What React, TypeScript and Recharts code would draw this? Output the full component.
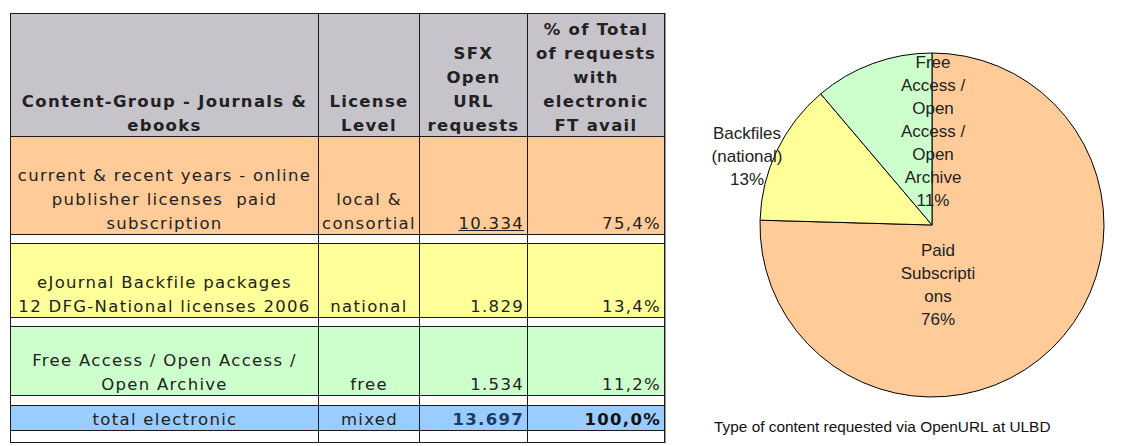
import { Cell, Pie, PieChart } from "recharts";

// table + pie: "Type of content requested via OpenURL at ULBD"
const contentGroups = [
  ["current & recent years - online", "publisher licenses  paid", "subscription"],
  ["eJournal Backfile packages", "12 DFG-National licenses 2006"],
  ["Free Access / Open Access /", "Open Archive"],
];
const licenseLevels = [["local &", "consortial"], ["national"], ["free"]];
const requests = [10334, 1829, 1534];
const rowColors = ["#FFCC99", "#FFFF99", "#CCFFCC"];

const pieNames = [
  ["Paid", "Subscripti", "ons"],
  ["Backfiles", "(national)"],
  ["Free", "Access /", "Open", "Access /", "Open", "Archive"],
];
const piePercents = ["76%", "13%", "11%"];

const headers = [
  ["Content-Group - Journals &", "ebooks"],
  ["License", "Level"],
  ["SFX", "Open", "URL", "requests"],
  ["% of Total", "of requests", "with", "electronic", "FT avail"],
];

const total = requests.reduce((a, b) => a + b, 0);
const pieData = requests.map((v, i) => ({ name: pieNames[i].join(" "), value: v }));

// label block centres, relative to the pie centre
const labelOffsets = [
  { dx: 6, dy: 60 },
  { dx: -185, dy: -69 },
  { dx: 1, dy: -94 },
];

const fmtNum = (n: number) => String(n).replace(/\B(?=(\d{3})+(?!\d))/g, ".");
const fmtPct = (n: number) => n.toFixed(1).replace(".", ",") + "%";

const font = '"DejaVu Sans", Verdana, sans-serif';
const line = "1px solid #1a1a1a";

const cell = (extra: React.CSSProperties = {}): React.CSSProperties => ({
  border: line,
  padding: "0 3px 0 4px",
  verticalAlign: "bottom",
  textAlign: "center",
  ...extra,
});

function Lines({ lines }: { lines: string[] }) {
  return (
    <div style={{ transform: "translateY(2px)" }}>
      {lines.map((l, i) => (
        <div key={i} style={{ whiteSpace: "pre" }}>
          {l}
        </div>
      ))}
    </div>
  );
}

function GapRow({ h }: { h: number }) {
  return (
    <tr style={{ height: h }}>
      {[0, 1, 2, 3].map((i) => (
        <td key={i} style={cell({ background: "#fff" })} />
      ))}
    </tr>
  );
}

function renderLabel(props: any) {
  const { cx, cy, index } = props;
  const lines = [...pieNames[index], piePercents[index]];
  const off = labelOffsets[index];
  const y0 = cy + off.dy - ((lines.length - 1) * 23) / 2;
  return (
    <text
      x={cx + off.dx}
      y={y0}
      textAnchor="middle"
      fill="#222"
      fontSize={17}
      fontFamily='"Liberation Sans", Arial, sans-serif'
    >
      {lines.map((l, i) => (
        <tspan key={i} x={cx + off.dx} y={y0 + i * 23} dominantBaseline="central">
          {l}
        </tspan>
      ))}
    </text>
  );
}

export default function App() {
  return (
    <div
      style={{
        position: "fixed",
        left: 0,
        top: 0,
        width: 1128,
        height: 446,
        background: "#fff",
        overflow: "hidden",
      }}
    >
      <table
        style={{
          position: "absolute",
          left: 10,
          top: 13,
          width: 654,
          borderCollapse: "collapse",
          tableLayout: "fixed",
          fontFamily: font,
          fontSize: 16.5,
          letterSpacing: 1.3,
          lineHeight: "24px",
          color: "#222",
        }}
      >
        <colgroup>
          <col style={{ width: 308 }} />
          <col style={{ width: 101 }} />
          <col style={{ width: 108 }} />
          <col style={{ width: 137 }} />
        </colgroup>
        <tbody>
          <tr style={{ height: 123 }}>
            {headers.map((h, i) => (
              <td key={i} style={cell({ background: "#C6C4CA", fontWeight: "bold", padding: "0 1px" })}>
                <Lines lines={h} />
              </td>
            ))}
          </tr>
          {requests.map((v, i) => (
            <>
              <tr key={"r" + i} style={{ height: [98, 74, 69][i] }}>
                <td style={cell({ background: rowColors[i], padding: "0 1px" })}>
                  <Lines lines={contentGroups[i]} />
                </td>
                <td style={cell({ background: rowColors[i], padding: "0 1px" })}>
                  <Lines lines={licenseLevels[i]} />
                </td>
                <td
                  style={cell({
                    background: rowColors[i],
                    textAlign: "right",
                    textDecoration: i === 0 ? "underline" : "none",
                  })}
                >
                  <Lines lines={[fmtNum(v)]} />
                </td>
                <td style={cell({ background: rowColors[i], textAlign: "right" })}>
                  <Lines lines={[fmtPct((v / total) * 100)]} />
                </td>
              </tr>
              <GapRow key={"g" + i} h={[9, 9, 10][i]} />
            </>
          ))}
          <tr style={{ height: 25 }}>
            <td style={cell({ background: "#99CCFF" })}>
              <Lines lines={["total electronic"]} />
            </td>
            <td style={cell({ background: "#99CCFF" })}>
              <Lines lines={["mixed"]} />
            </td>
            <td style={cell({ background: "#99CCFF", textAlign: "right", fontWeight: "bold", color: "#1B3A66" })}>
              <Lines lines={[fmtNum(total)]} />
            </td>
            <td style={cell({ background: "#99CCFF", textAlign: "right", fontWeight: "bold", color: "#111" })}>
              <Lines lines={[fmtPct(100)]} />
            </td>
          </tr>
          <GapRow h={12} />
        </tbody>
      </table>
      <div
        style={{
          position: "absolute",
          left: 665,
          top: 13,
          width: 1,
          height: 430,
          background: "#9a9a9a",
        }}
      />

      <div style={{ position: "absolute", left: 690, top: 0 }}>
        <PieChart width={438} height={410} margin={{ top: 0, right: 0, bottom: 0, left: 0 }}>
          <Pie
            data={pieData}
            dataKey="value"
            nameKey="name"
            cx={242}
            cy={225}
            outerRadius={172}
            startAngle={90}
            endAngle={-270}
            label={renderLabel}
            labelLine={false}
            isAnimationActive={false}
          >
            {pieData.map((d, i) => (
              <Cell key={d.name} fill={rowColors[i]} stroke="#000" strokeWidth={1} />
            ))}
          </Pie>
        </PieChart>
      </div>
      <div
        style={{
          position: "absolute",
          left: 714,
          top: 418,
          fontFamily: '"Liberation Sans", Arial, sans-serif',
          fontSize: 15.4,
          color: "#111",
          whiteSpace: "nowrap",
        }}
      >
        Type of content requested via OpenURL at ULBD
      </div>
    </div>
  );
}
